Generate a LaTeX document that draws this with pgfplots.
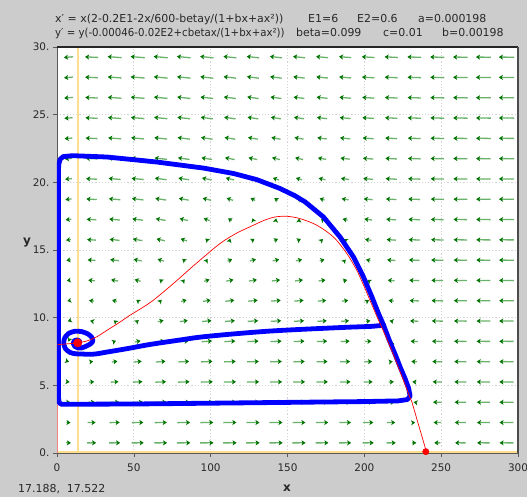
\documentclass[border=0pt]{standalone}
\usepackage{pgfplots}
\pgfplotsset{compat=1.18}
\usepackage{pgfplotstable}
\usepackage{fontspec}
\setmainfont{DejaVu Sans}
\usetikzlibrary{arrows.meta}
\definecolor{bg}{RGB}{204,204,204}
\definecolor{txt}{RGB}{40,40,40}
\definecolor{fieldshaft}{RGB}{105,178,105}
\definecolor{fieldhead}{RGB}{0,115,0}
\definecolor{nullc}{RGB}{255,222,140}
\definecolor{pinkred}{RGB}{240,130,130}

\pgfplotstableread{
x y u v
7.5 0.75 5.270 -0.004
7.5 2.25 4.184 -0.012
7.5 3.75 3.099 -0.020
7.5 5.25 2.013 -0.027
7.5 6.75 0.927 -0.035
7.5 8.25 -0.158 -0.043
7.5 9.75 -1.244 -0.051
7.5 11.25 -2.330 -0.059
7.5 12.75 -3.415 -0.067
7.5 14.25 -4.501 -0.074
7.5 15.75 -5.587 -0.082
7.5 17.25 -6.672 -0.090
7.5 18.75 -7.758 -0.098
7.5 20.25 -8.844 -0.106
7.5 21.75 -9.930 -0.114
7.5 23.25 -11.015 -0.121
7.5 24.75 -12.101 -0.129
7.5 26.25 -13.187 -0.137
7.5 27.75 -14.272 -0.145
7.5 29.25 -15.358 -0.153
22.5 0.75 14.853 0.005
22.5 2.25 11.935 0.016
22.5 3.75 9.016 0.026
22.5 5.25 6.097 0.037
22.5 6.75 3.178 0.047
22.5 8.25 0.260 0.058
22.5 9.75 -2.659 0.068
22.5 11.25 -5.578 0.079
22.5 12.75 -8.497 0.089
22.5 14.25 -11.415 0.100
22.5 15.75 -14.334 0.110
22.5 17.25 -17.253 0.121
22.5 18.75 -20.172 0.131
22.5 20.25 -23.090 0.142
22.5 21.75 -26.009 0.152
22.5 23.25 -28.928 0.163
22.5 24.75 -31.846 0.173
22.5 26.25 -34.765 0.184
22.5 27.75 -37.684 0.194
22.5 29.25 -40.603 0.205
37.5 0.75 23.254 0.011
37.5 2.25 19.137 0.034
37.5 3.75 15.020 0.056
37.5 5.25 10.903 0.079
37.5 6.75 6.786 0.101
37.5 8.25 2.669 0.124
37.5 9.75 -1.448 0.146
37.5 11.25 -5.565 0.169
37.5 12.75 -9.682 0.191
37.5 14.25 -13.799 0.214
37.5 15.75 -17.916 0.236
37.5 17.25 -22.033 0.259
37.5 18.75 -26.149 0.281
37.5 20.25 -30.266 0.304
37.5 21.75 -34.383 0.326
37.5 23.25 -38.500 0.349
37.5 24.75 -42.617 0.371
37.5 26.25 -46.734 0.393
37.5 27.75 -50.851 0.416
37.5 29.25 -54.968 0.438
52.5 0.75 30.450 0.014
52.5 2.25 25.724 0.043
52.5 3.75 20.998 0.071
52.5 5.25 16.272 0.100
52.5 6.75 11.546 0.129
52.5 8.25 6.821 0.157
52.5 9.75 2.095 0.186
52.5 11.25 -2.631 0.214
52.5 12.75 -7.357 0.243
52.5 14.25 -12.083 0.271
52.5 15.75 -16.808 0.300
52.5 17.25 -21.534 0.329
52.5 18.75 -26.260 0.357
52.5 20.25 -30.986 0.386
52.5 21.75 -35.712 0.414
52.5 23.25 -40.437 0.443
52.5 24.75 -45.163 0.471
52.5 26.25 -49.889 0.500
52.5 27.75 -54.615 0.529
52.5 29.25 -59.341 0.557
67.5 0.75 36.351 0.015
67.5 2.25 31.427 0.046
67.5 3.75 26.503 0.076
67.5 5.25 21.579 0.107
67.5 6.75 16.655 0.138
67.5 8.25 11.732 0.168
67.5 9.75 6.808 0.199
67.5 11.25 1.884 0.229
67.5 12.75 -3.040 0.260
67.5 14.25 -7.964 0.290
67.5 15.75 -12.887 0.321
67.5 17.25 -17.811 0.351
67.5 18.75 -22.735 0.382
67.5 20.25 -27.659 0.412
67.5 21.75 -32.583 0.443
67.5 23.25 -37.506 0.474
67.5 24.75 -42.430 0.504
67.5 26.25 -47.354 0.535
67.5 27.75 -52.278 0.565
67.5 29.25 -57.202 0.596
82.5 0.75 40.873 0.015
82.5 2.25 35.993 0.045
82.5 3.75 31.114 0.075
82.5 5.25 26.234 0.105
82.5 6.75 21.355 0.135
82.5 8.25 16.475 0.166
82.5 9.75 11.596 0.196
82.5 11.25 6.716 0.226
82.5 12.75 1.837 0.256
82.5 14.25 -3.043 0.286
82.5 15.75 -7.922 0.316
82.5 17.25 -12.802 0.346
82.5 18.75 -17.681 0.376
82.5 20.25 -22.561 0.406
82.5 21.75 -27.440 0.437
82.5 23.25 -32.320 0.467
82.5 24.75 -37.199 0.497
82.5 26.25 -42.079 0.527
82.5 27.75 -46.958 0.557
82.5 29.25 -51.838 0.587
97.5 0.75 43.959 0.014
97.5 2.25 39.251 0.043
97.5 3.75 34.543 0.071
97.5 5.25 29.835 0.099
97.5 6.75 25.127 0.128
97.5 8.25 20.420 0.156
97.5 9.75 15.712 0.185
97.5 11.25 11.004 0.213
97.5 12.75 6.296 0.241
97.5 14.25 1.588 0.270
97.5 15.75 -3.120 0.298
97.5 17.25 -7.827 0.327
97.5 18.75 -12.535 0.355
97.5 20.25 -17.243 0.383
97.5 21.75 -21.951 0.412
97.5 23.25 -26.659 0.440
97.5 24.75 -31.367 0.469
97.5 26.25 -36.074 0.497
97.5 27.75 -40.782 0.525
97.5 29.25 -45.490 0.554
112.5 0.75 45.572 0.013
112.5 2.25 41.092 0.039
112.5 3.75 36.612 0.065
112.5 5.25 32.132 0.091
112.5 6.75 27.651 0.118
112.5 8.25 23.171 0.144
112.5 9.75 18.690 0.170
112.5 11.25 14.210 0.196
112.5 12.75 9.730 0.222
112.5 14.25 5.249 0.248
112.5 15.75 0.769 0.274
112.5 17.25 -3.712 0.300
112.5 18.75 -8.192 0.326
112.5 20.25 -12.672 0.353
112.5 21.75 -17.153 0.379
112.5 23.25 -21.633 0.405
112.5 24.75 -26.114 0.431
112.5 26.25 -30.594 0.457
112.5 27.75 -35.074 0.483
112.5 29.25 -39.555 0.509
127.5 0.75 45.695 0.012
127.5 2.25 41.461 0.035
127.5 3.75 37.227 0.059
127.5 5.25 32.992 0.083
127.5 6.75 28.758 0.106
127.5 8.25 24.523 0.130
127.5 9.75 20.289 0.154
127.5 11.25 16.055 0.177
127.5 12.75 11.820 0.201
127.5 14.25 7.586 0.225
127.5 15.75 3.352 0.248
127.5 17.25 -0.883 0.272
127.5 18.75 -5.117 0.296
127.5 20.25 -9.352 0.319
127.5 21.75 -13.586 0.343
127.5 23.25 -17.820 0.367
127.5 24.75 -22.055 0.390
127.5 26.25 -26.289 0.414
127.5 27.75 -30.523 0.438
127.5 29.25 -34.758 0.461
142.5 0.75 44.317 0.011
142.5 2.25 40.326 0.032
142.5 3.75 36.336 0.053
142.5 5.25 32.345 0.074
142.5 6.75 28.354 0.095
142.5 8.25 24.363 0.117
142.5 9.75 20.372 0.138
142.5 11.25 16.382 0.159
142.5 12.75 12.391 0.180
142.5 14.25 8.400 0.201
142.5 15.75 4.409 0.223
142.5 17.25 0.419 0.244
142.5 18.75 -3.572 0.265
142.5 20.25 -7.563 0.286
142.5 21.75 -11.554 0.308
142.5 23.25 -15.545 0.329
142.5 24.75 -19.535 0.350
142.5 26.25 -23.526 0.371
142.5 27.75 -27.517 0.392
142.5 29.25 -31.508 0.414
157.5 0.75 41.433 0.009
157.5 2.25 37.674 0.028
157.5 3.75 33.916 0.047
157.5 5.25 30.157 0.066
157.5 6.75 26.398 0.085
157.5 8.25 22.640 0.104
157.5 9.75 18.881 0.123
157.5 11.25 15.122 0.142
157.5 12.75 11.364 0.161
157.5 14.25 7.605 0.179
157.5 15.75 3.846 0.198
157.5 17.25 0.088 0.217
157.5 18.75 -3.671 0.236
157.5 20.25 -7.430 0.255
157.5 21.75 -11.188 0.274
157.5 23.25 -14.947 0.293
157.5 24.75 -18.706 0.312
157.5 26.25 -22.464 0.330
157.5 27.75 -26.223 0.349
157.5 29.25 -29.982 0.368
172.5 0.75 37.041 0.008
172.5 2.25 33.499 0.025
172.5 3.75 29.957 0.042
172.5 5.25 26.415 0.059
172.5 6.75 22.872 0.075
172.5 8.25 19.330 0.092
172.5 9.75 15.788 0.109
172.5 11.25 12.245 0.125
172.5 12.75 8.703 0.142
172.5 14.25 5.161 0.159
172.5 15.75 1.619 0.176
172.5 17.25 -1.924 0.192
172.5 18.75 -5.466 0.209
172.5 20.25 -9.008 0.226
172.5 21.75 -12.551 0.243
172.5 23.25 -16.093 0.259
172.5 24.75 -19.635 0.276
172.5 26.25 -23.177 0.293
172.5 27.75 -26.720 0.309
172.5 29.25 -30.262 0.326
187.5 0.75 31.142 0.007
187.5 2.25 27.801 0.022
187.5 3.75 24.459 0.037
187.5 5.25 21.118 0.052
187.5 6.75 17.777 0.066
187.5 8.25 14.436 0.081
187.5 9.75 11.094 0.096
187.5 11.25 7.753 0.110
187.5 12.75 4.412 0.125
187.5 14.25 1.070 0.140
187.5 15.75 -2.271 0.155
187.5 17.25 -5.612 0.169
187.5 18.75 -8.953 0.184
187.5 20.25 -12.295 0.199
187.5 21.75 -15.636 0.214
187.5 23.25 -18.977 0.228
187.5 24.75 -22.319 0.243
187.5 26.25 -25.660 0.258
187.5 27.75 -29.001 0.273
187.5 29.25 -32.343 0.287
202.5 0.75 23.733 0.006
202.5 2.25 20.574 0.019
202.5 3.75 17.415 0.032
202.5 5.25 14.256 0.045
202.5 6.75 11.097 0.058
202.5 8.25 7.938 0.071
202.5 9.75 4.779 0.084
202.5 11.25 1.620 0.097
202.5 12.75 -1.539 0.110
202.5 14.25 -4.698 0.123
202.5 15.75 -7.857 0.135
202.5 17.25 -11.016 0.148
202.5 18.75 -14.175 0.161
202.5 20.25 -17.334 0.174
202.5 21.75 -20.493 0.187
202.5 23.25 -23.652 0.200
202.5 24.75 -26.811 0.213
202.5 26.25 -29.970 0.226
202.5 27.75 -33.129 0.239
202.5 29.25 -36.288 0.252
217.5 0.75 14.817 0.006
217.5 2.25 11.825 0.017
217.5 3.75 8.833 0.028
217.5 5.25 5.841 0.039
217.5 6.75 2.849 0.050
217.5 8.25 -0.142 0.062
217.5 9.75 -3.134 0.073
217.5 11.25 -6.126 0.084
217.5 12.75 -9.118 0.095
217.5 14.25 -12.110 0.107
217.5 15.75 -15.101 0.118
217.5 17.25 -18.093 0.129
217.5 18.75 -21.085 0.140
217.5 20.25 -24.077 0.151
217.5 21.75 -27.069 0.163
217.5 23.25 -30.060 0.174
217.5 24.75 -33.052 0.185
217.5 26.25 -36.044 0.196
217.5 27.75 -39.036 0.208
217.5 29.25 -42.028 0.219
232.5 0.75 4.393 0.005
232.5 2.25 1.554 0.015
232.5 3.75 -1.285 0.024
232.5 5.25 -4.124 0.034
232.5 6.75 -6.963 0.044
232.5 8.25 -9.802 0.053
232.5 9.75 -12.641 0.063
232.5 11.25 -15.480 0.073
232.5 12.75 -18.319 0.082
232.5 14.25 -21.157 0.092
232.5 15.75 -23.996 0.102
232.5 17.25 -26.835 0.111
232.5 18.75 -29.674 0.121
232.5 20.25 -32.513 0.131
232.5 21.75 -35.352 0.141
232.5 23.25 -38.191 0.150
232.5 24.75 -41.030 0.160
232.5 26.25 -43.869 0.170
232.5 27.75 -46.708 0.179
232.5 29.25 -49.547 0.189
247.5 0.75 -7.537 0.004
247.5 2.25 -10.236 0.012
247.5 3.75 -12.935 0.021
247.5 5.25 -15.634 0.029
247.5 6.75 -18.333 0.037
247.5 8.25 -21.032 0.046
247.5 9.75 -23.731 0.054
247.5 11.25 -26.430 0.062
247.5 12.75 -29.129 0.071
247.5 14.25 -31.828 0.079
247.5 15.75 -34.527 0.087
247.5 17.25 -37.226 0.095
247.5 18.75 -39.925 0.104
247.5 20.25 -42.624 0.112
247.5 21.75 -45.323 0.120
247.5 23.25 -48.022 0.129
247.5 24.75 -50.721 0.137
247.5 26.25 -53.420 0.145
247.5 27.75 -56.119 0.153
247.5 29.25 -58.818 0.162
262.5 0.75 -20.973 0.004
262.5 2.25 -23.544 0.011
262.5 3.75 -26.115 0.018
262.5 5.25 -28.686 0.025
262.5 6.75 -31.258 0.032
262.5 8.25 -33.829 0.039
262.5 9.75 -36.400 0.046
262.5 11.25 -38.971 0.053
262.5 12.75 -41.542 0.060
262.5 14.25 -44.114 0.067
262.5 15.75 -46.685 0.074
262.5 17.25 -49.256 0.081
262.5 18.75 -51.827 0.088
262.5 20.25 -54.398 0.095
262.5 21.75 -56.969 0.102
262.5 23.25 -59.541 0.109
262.5 24.75 -62.112 0.116
262.5 26.25 -64.683 0.123
262.5 27.75 -67.254 0.130
262.5 29.25 -69.825 0.137
277.5 0.75 -35.913 0.003
277.5 2.25 -38.365 0.009
277.5 3.75 -40.817 0.015
277.5 5.25 -43.269 0.020
277.5 6.75 -45.721 0.026
277.5 8.25 -48.172 0.032
277.5 9.75 -50.624 0.038
277.5 11.25 -53.076 0.044
277.5 12.75 -55.528 0.050
277.5 14.25 -57.980 0.056
277.5 15.75 -60.431 0.061
277.5 17.25 -62.883 0.067
277.5 18.75 -65.335 0.073
277.5 20.25 -67.787 0.079
277.5 21.75 -70.239 0.085
277.5 23.25 -72.690 0.091
277.5 24.75 -75.142 0.097
277.5 26.25 -77.594 0.102
277.5 27.75 -80.046 0.108
277.5 29.25 -82.498 0.114
292.5 0.75 -52.361 0.002
292.5 2.25 -54.709 0.007
292.5 3.75 -57.056 0.012
292.5 5.25 -59.403 0.017
292.5 6.75 -61.751 0.021
292.5 8.25 -64.098 0.026
292.5 9.75 -66.446 0.031
292.5 11.25 -68.793 0.036
292.5 12.75 -71.140 0.041
292.5 14.25 -73.488 0.045
292.5 15.75 -75.835 0.050
292.5 17.25 -78.183 0.055
292.5 18.75 -80.530 0.060
292.5 20.25 -82.877 0.064
292.5 21.75 -85.225 0.069
292.5 23.25 -87.572 0.074
292.5 24.75 -89.920 0.079
292.5 26.25 -92.267 0.084
292.5 27.75 -94.614 0.088
292.5 29.25 -96.962 0.093
}\field

\begin{document}
\begin{tikzpicture}
\clip (0,0) rectangle (527bp,497bp);
\fill[bg] (0,0) rectangle (527bp,497bp);
\begin{axis}[
  at={(57bp,44bp)}, anchor=south west, scale only axis,
  width=461bp, height=406bp,
  xmin=0, xmax=300, ymin=0, ymax=30,
  axis background/.style={fill=white},
  xtick={0,50,...,300}, xticklabels={0,50,100,150,200,250,300},
  ytick={0,5,...,30}, yticklabels={0.,5.,10.,15.,20.,25.,30.},
  tick pos=left, tick align=outside, major tick length=4bp,
  tick style={gray!70!black, line width=0.6pt},
  ticklabel style={font=\fontsize{10.5}{12}\selectfont, text=txt},
  xticklabel style={yshift=-3bp},
  yticklabel style={xshift=0bp},
  grid=major, major grid style={dash pattern=on 1.2bp off 2bp, gray!35, line width=0.8pt},
  axis line style={draw=gray!70!black, line width=0.8pt},
  declare function={sc(\a,\b)=17.5/(10*sqrt(0.023593*\a*\a+1.836025*\b*\b)+21.4);},
]
% direction field
\addplot[fieldshaft, line width=1.3bp, -{Stealth[length=4bp,width=5bp,inset=1bp,color=fieldhead]},
  quiver={u={\thisrow{u}*sc(\thisrow{u},\thisrow{v})}, v={\thisrow{v}*sc(\thisrow{u},\thisrow{v})}}]
  table[x expr={\thisrow{x}-0.5*\thisrow{u}*sc(\thisrow{u},\thisrow{v})},
        y expr={\thisrow{y}-0.5*\thisrow{v}*sc(\thisrow{u},\thisrow{v})}] {\field};
% nullclines
\addplot[nullc, line width=2bp] coordinates {(13.36,0) (13.36,30)};
\addplot[nullc, line width=2.5bp] coordinates {(0,0.08) (300,0.08)};
% y-axis separatrix
\addplot[pinkred, line width=1.5bp] coordinates {(0.3,0) (0.3,3.6)};
% trajectory: spiral and branch
\addplot[blue, line width=4.8bp, line join=round, line cap=round, smooth, tension=0.5] coordinates {
(14.80,8.14) (14.48,8.29) (12.85,8.36) (11.22,8.29) (10.57,8.10) (11.55,7.88) (13.5,7.77)
(16.10,7.77) (18.71,7.88) (21.31,8.03) (23.27,8.25) (22.61,8.55) (20.01,8.80) (16.10,8.97)
(11.55,8.99) (7.64,8.84) (5.04,8.51) (4.39,8.14) (5.36,7.73) (8.29,7.44) (12.20,7.33)
(16.76,7.31) (21.31,7.29) (26,7.33) (32,7.45) (40,7.6) (47.5,7.75) (60.5,8.02) (80,8.35)
(93,8.56) (110,8.75) (125.6,8.9) (140,9.02) (158,9.13) (175,9.22) (190.8,9.3) (205,9.36) (212.5,9.45)};
% trajectory: outer loop
\addplot[blue, line width=4.8bp, line join=round, line cap=round] coordinates {
(212.5,9.45) (209.2,10.31) (204.9,11.54) (199.4,13.01) (192.9,14.49) (184.2,15.96) (173.4,17.44)
(161.5,18.55) (155,19.0) (145,19.55) (130,20.2) (115,20.65) (95.5,21.05) (65,21.5) (32.6,21.87) (10,21.97)
(4,21.9) (2,21.7) (1.1,21.3) (0.9,20.5) (0.9,15) (0.9,10) (0.9,5) (0.95,4.1) (1.5,3.7) (3,3.6)
(50,3.62) (100,3.68) (150,3.74) (200,3.8) (222,3.85) (228,3.95) (229.8,4.2) (228.8,4.8)
(226.5,5.5) (223.5,6.3) (220,7.3) (216,8.4) (212.5,9.45)};
% red separatrix
\addplot[red, line width=0.7bp, smooth, tension=0.5] coordinates {
(0.2,8.0) (6,8.06) (13.5,8.14) (20,8.3) (25.8,8.58) (33,9.1) (40,9.6) (47.5,10.18) (55,10.7)
(62.7,11.29) (75,12.45) (90,13.95) (106.1,15.48) (117,16.25) (127.8,16.83) (135,17.2)
(141.9,17.44) (149.5,17.49) (158.2,17.32) (169.1,16.83) (179.9,15.96) (188.6,14.74)
(195.1,13.5) (199.5,12.4) (204,11.2) (208.5,10.0) (214,8.6) (219.5,7.1) (225,5.5) (229,4.3) (230.9,3.79)};
\addplot[red, line width=0.7bp] coordinates {(230.9,3.79) (240.5,0.05)};
% equilibria
\addplot[only marks, mark=*, mark size=4.2bp, red] coordinates {(13.5,8.14)};
\addplot[only marks, mark=*, mark size=3.2bp, red] coordinates {(240,0.1)};
\end{axis}
\draw[black!85, line width=1.6bp] (57bp,450bp) -- (518bp,450bp);
\draw[gray!60!black, line width=1.2bp] (518bp,44bp) -- (518bp,450bp);
\begin{scope}[every node/.style={inner sep=0pt, anchor=base west, text=txt, font=\fontsize{11}{13}\selectfont}]
\node at (55bp,474bp) {x′ = x(2-0.2E1-2x/600-betay/(1+bx+ax²))};
\node at (308bp,474bp) {E1=6};
\node at (357bp,474bp) {E2=0.6};
\node at (418bp,474bp) {a=0.000198};
\node at (55bp,460bp) {\scalebox{0.93}[1]{y′ = y(-0.00046-0.02E2+cbetax/(1+bx+ax²))}};
\node at (296bp,460bp) {beta=0.099};
\node at (383bp,460bp) {c=0.01};
\node at (442bp,460bp) {b=0.00198};
\node at (18bp,5bp) {17.188,\ \ 17.522};
\end{scope}
\node[inner sep=0pt, font=\fontsize{12}{14}\selectfont\bfseries, text=txt] at (287bp,9bp) {x};
\node[inner sep=0pt, font=\fontsize{12}{14}\selectfont\bfseries, text=txt] at (27bp,254bp) {y};
\end{tikzpicture}
\end{document}
